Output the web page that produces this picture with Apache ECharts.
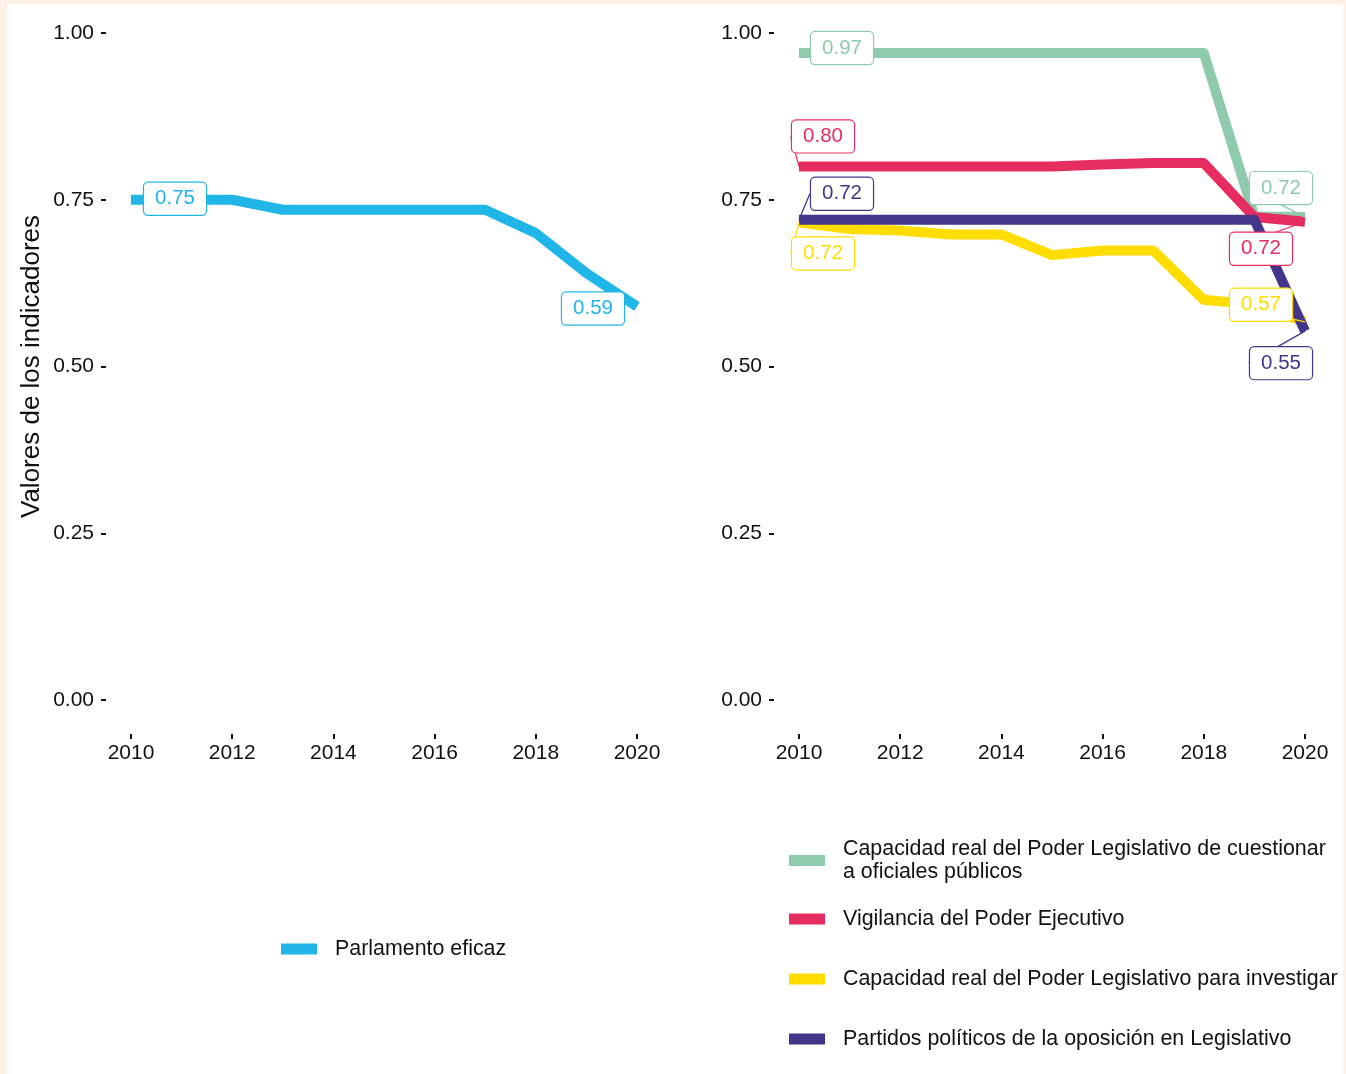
<!DOCTYPE html>
<html>
<head>
<meta charset="utf-8">
<script src="https://cdn.jsdelivr.net/npm/echarts@6/dist/echarts.min.js"></script>
<style>
  html, body { margin: 0; padding: 0; width: 1346px; height: 1074px; background: #fdf0e7; overflow: hidden; }
  #sheet { position: absolute; left: 7px; top: 4px; width: 1336px; height: 1070px; background: #ffffff; }
  #chart { position: absolute; left: 0; top: 0; width: 1346px; height: 1074px; }
</style>
</head>
<body>
<div id="sheet"></div>
<div id="chart"></div>
<script>
// Years on the x axis
const years = [2010, 2011, 2012, 2013, 2014, 2015, 2016, 2017, 2018, 2019, 2020];

// Aggregate indicator (left panel)
const parlamentoEficaz = [0.75, 0.75, 0.75, 0.735, 0.735, 0.735, 0.735, 0.735, 0.70, 0.64, 0.59];

// Component indicators (right panel)
const cuestionarOficiales = [0.97, 0.97, 0.97, 0.97, 0.97, 0.97, 0.97, 0.97, 0.97, 0.725, 0.724];
const vigilanciaEjecutivo = [0.80, 0.80, 0.80, 0.80, 0.80, 0.80, 0.803, 0.805, 0.805, 0.724, 0.717];
const capacidadInvestigar = [0.716, 0.706, 0.704, 0.698, 0.698, 0.667, 0.674, 0.674, 0.60, 0.593, 0.567];
const partidosOposicion = [0.72, 0.72, 0.72, 0.72, 0.72, 0.72, 0.72, 0.72, 0.72, 0.72, 0.553];

// Series names (legend entries)
const nameParlamento = 'Parlamento eficaz';
const nameCuestionar = 'Capacidad real del Poder Legislativo de cuestionar a oficiales públicos';
const nameVigilancia = 'Vigilancia del Poder Ejecutivo';
const nameInvestigar = 'Capacidad real del Poder Legislativo para investigar';
const nameOposicion = 'Partidos políticos de la oposición en Legislativo';

// Axis ticks
const yTicks = [0, 0.25, 0.5, 0.75, 1];
const xTickStep = 2;

const FONT = '"Liberation Sans", Arial, Helvetica, sans-serif';
const colors = {
  parlamento: '#21b6e8',
  cuestionar: '#8ecbad',
  vigilancia: '#e62d5f',
  investigar: '#ffdd00',
  oposicion: '#43368a'
};

// Where each end-point label box sits relative to its point (first / last year)
const labelShift = {
  parlamento: [[44, -1], [-44, 2]],
  cuestionar: [[43, -5], [-24, -29]],
  vigilancia: [[24, -30], [-44, 27]],
  investigar: [[24, 31], [-44, -17]],
  oposicion: [[43, -26], [-24, 32]]
};

function pointsWithEndLabels(values) {
  const last = values.length - 1;
  return values.map(function (v, i) {
    if (i === 0 || i === last) {
      return { value: [years[i], v], label: { show: true } };
    }
    return { value: [years[i], v] };
  });
}

function lineSeries(key, name, values, panel, guide) {
  const c = colors[key];
  return {
    type: 'line',
    name: name,
    xAxisIndex: panel,
    yAxisIndex: panel,
    data: pointsWithEndLabels(values),
    color: c,
    symbol: 'circle',
    symbolSize: 0,
    showSymbol: true,
    clip: false,
    silent: true,
    animation: false,
    lineStyle: { color: c, width: 10, cap: 'butt', join: 'round' },
    itemStyle: { color: c },
    label: {
      show: false,
      position: 'inside',
      formatter: function (p) { return p.value[1].toFixed(2); },
      fontFamily: FONT,
      fontSize: 20.5,
      color: c,
      backgroundColor: '#ffffff',
      borderColor: c,
      borderWidth: 1.2,
      borderRadius: 4,
      padding: [6, 11, 5, 11]
    },
    labelLine: { show: guide, lineStyle: { color: c, width: 1.3 } },
    labelLayout: function (p) {
      const s = labelShift[key][p.dataIndex === 0 ? 0 : 1];
      return { dx: s[0], dy: s[1] };
    }
  };
}

function xAxisFor(panel) {
  return {
    type: 'value', gridIndex: panel, min: years[0], max: years[years.length - 1], interval: xTickStep,
    offset: 34,
    axisLine: { show: false, onZero: false },
    axisTick: { show: true, length: 5, lineStyle: { color: '#111', width: 2 } },
    splitLine: { show: false },
    axisLabel: { fontFamily: FONT, fontSize: 21, color: '#111', margin: 9, formatter: function (v) { return String(v); } }
  };
}

function yAxisFor(panel, withName) {
  const ax = {
    type: 'value', gridIndex: panel, min: yTicks[0], max: yTicks[yTicks.length - 1], interval: yTicks[1] - yTicks[0],
    offset: 25,
    axisLine: { show: false, onZero: false },
    axisTick: { show: true, length: 5, lineStyle: { color: '#111', width: 2 } },
    splitLine: { show: false },
    axisLabel: { fontFamily: FONT, fontSize: 21, color: '#111', margin: 12, formatter: function (v) { return v.toFixed(2); } }
  };
  if (withName) {
    ax.name = 'Valores de los indicadores';
    ax.nameLocation = 'middle';
    ax.nameGap = 61;
    ax.nameTextStyle = { fontFamily: FONT, fontSize: 26, color: '#111' };
  }
  return ax;
}

function legendFor(name, left, top) {
  return {
    data: [name],
    left: left, top: top,
    padding: 0,
    orient: 'vertical',
    icon: 'rect',
    itemWidth: 36, itemHeight: 11,
    selectedMode: false,
    formatter: function (n) {
      return n === nameCuestionar ? 'Capacidad real del Poder Legislativo de cuestionar\na oficiales públicos' : n;
    },
    textStyle: { fontFamily: FONT, fontSize: 21.4, lineHeight: 23, color: '#111', padding: [0, 0, 0, 13] }
  };
}

const chart = echarts.init(document.getElementById('chart'), null, { renderer: 'canvas' });
chart.setOption({
  animation: false,
  backgroundColor: 'transparent',
  grid: [
    { left: 131, top: 33, width: 506, height: 667 },
    { left: 799, top: 33, width: 506, height: 667 }
  ],
  xAxis: [xAxisFor(0), xAxisFor(1)],
  yAxis: [yAxisFor(0, true), yAxisFor(1, false)],
  legend: [
    legendFor(nameParlamento, 281, 937.5),
    legendFor(nameCuestionar, 789, 837.5),
    legendFor(nameVigilancia, 789, 907.5),
    legendFor(nameInvestigar, 789, 967.5),
    legendFor(nameOposicion, 789, 1027.5)
  ],
  series: [
    lineSeries('parlamento', nameParlamento, parlamentoEficaz, 0, false),
    lineSeries('cuestionar', nameCuestionar, cuestionarOficiales, 1, true),
    lineSeries('vigilancia', nameVigilancia, vigilanciaEjecutivo, 1, true),
    lineSeries('investigar', nameInvestigar, capacidadInvestigar, 1, true),
    lineSeries('oposicion', nameOposicion, partidosOposicion, 1, true)
  ]
});
</script>
</body>
</html>
